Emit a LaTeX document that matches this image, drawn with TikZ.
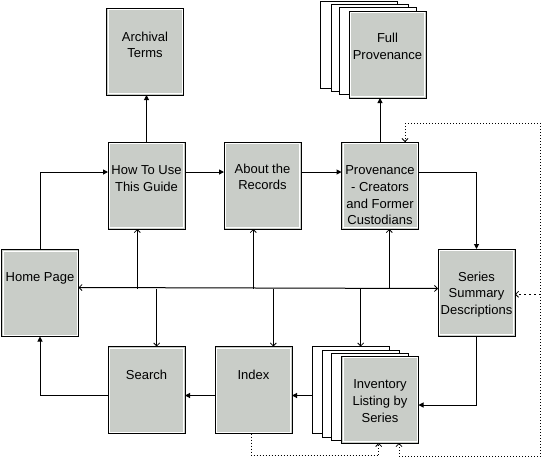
\documentclass[tikz,border=0pt]{standalone}
\usepackage{fontspec}
\setmainfont{Liberation Sans}
\usetikzlibrary{arrows.meta,calc}
\definecolor{boxgray}{HTML}{C9CDC8}
\begin{document}
\begin{tikzpicture}[x=1pt,y=-1pt,
  pg/.style={draw=black,line width=1pt,minimum width=77pt,minimum height=87pt,inner sep=0pt,outer sep=0pt},
  box/.style={pg,fill=boxgray},
  page/.style={pg,fill=white},
  lbl/.style={anchor=north,align=center,inner sep=0pt,font=\fontsize{13}{16.7}\selectfont},
  link/.style={line width=1pt,-{Triangle[length=5pt,width=5pt]}},
  nav/.style={line width=1pt,-{Straight Barb[length=3pt,width=6pt,line width=0.8pt]}},
  dotl/.style={line width=1pt,dash pattern=on 1pt off 2pt},
  dashl/.style={line width=1pt,dash pattern=on 2pt off 3pt}
]
\fill[white] (0,0) rectangle (541,459);
\path[use as bounding box] (0,0) rectangle (541,459);

% stacked pages behind
\node[page] (fullp1) at (359,44.5) {};
\node[page] (fullp2) at (369.5,48) {};
\node[page] (fullp3) at (378,50.5) {};
\node[page] (invp1) at (351,390) {};
\node[page] (invp2) at (360.5,394) {};
\node[page] (invp3) at (370,396.5) {};

% boxes
\node[box] (arch) at (145,51.5) {};
\node[box] (how) at (146.5,185.5) {};
\node[box] (about) at (262.5,185.5) {};
\node[box] (prov) at (380,185.5) {};
\node[box] (full) at (387.5,54.5) {};
\node[box] (series) at (476.5,292.5) {};
\node[box] (home) at (40,293) {};
\node[box] (search) at (146.5,390) {};
\node[box] (index) at (253.5,390) {};
\node[box] (inv) at (380,399.5) {};

\foreach \n in {arch,how,about,prov,full,series,home,search,index,inv}
  \draw[white,line width=1pt] ([shift={(1.5pt,-1.5pt)}]\n.north west) rectangle ([shift={(-1.5pt,1.5pt)}]\n.south east);

% labels
\node[lbl] (archT) at ([yshift=-23.5pt]arch.north) {Archival\\Terms};
\node[lbl] (howT) at ([yshift=-23.5pt]how.north) {How To Use\\This Guide};
\node[lbl] (aboutT) at ([yshift=-21.5pt]about.north) {About the\\Records};
\node[lbl] (provT) at ([yshift=-23.5pt]prov.north) {Provenance\\- Creators\\and Former\\Custodians};
\node[lbl] (fullT) at ([yshift=-22pt]full.north) {Full\\Provenance};
\node[lbl] (seriesT) at ([yshift=-22.5pt]series.north) {Series\\Summary\\Descriptions};
\node[lbl] (homeT) at ([yshift=-23pt]home.north) {Home Page};
\node[lbl] (searchT) at ([yshift=-23.5pt]search.north) {Search};
\node[lbl] (indexT) at ([yshift=-23.5pt]index.north) {Index};
\node[lbl] (invT) at ([yshift=-23.5pt]inv.north) {Inventory\\Listing by\\Series};

% main links
\draw[link] (how.north) -- (how.north |- arch.south);
\draw[link] (home.north) |- ([yshift=-30pt]how.north west);
\draw[link] ([yshift=-30pt]how.north east) -- ([yshift=-30pt]about.north west);
\draw[link] ([yshift=-30pt]about.north east) -- ([yshift=-30pt]prov.north west);
\draw[link] (prov.north) -- (prov.north |- full.south);
\draw[link] ([yshift=-30pt]prov.north east) -| (series.north);
\draw[link] (series.south) |- ([yshift=-49pt]inv.north east);
\draw[link] ([yshift=-49pt]invp1.north west) -- ([yshift=-49pt]index.north east);
\draw[link] ([yshift=-49pt]index.north west) -- ([yshift=-49pt]search.north east);
\draw[link] ([yshift=-49pt]search.north west) -| (home.south);

% navigation hub
\coordinate (hubL) at ([yshift=-38pt]home.north east);
\coordinate (hubR) at ([yshift=-39.5pt]series.north west);
\draw[nav,{Straight Barb[length=3pt,width=6pt,line width=0.8pt]}-{Straight Barb[length=3pt,width=6pt,line width=0.8pt]}] (hubL) -- (hubR);
\coordinate (j1) at (137.3,288.5);
\coordinate (j2) at (253.3,288.5);
\coordinate (j3) at (389.3,288.5);
\coordinate (j4) at (156.7,288.5);
\coordinate (j5) at (273.3,288.5);
\coordinate (j6) at (360.7,288.5);
\draw[nav] (j1) -- (j1 |- how.south);
\draw[nav] (j2) -- (j2 |- about.south);
\draw[nav] (j3) -- (j3 |- prov.south);
\draw[nav] (j4) -- (j4 |- search.north);
\draw[nav] (j5) -- (j5 |- index.north);
\draw[nav] (j6) -- (j6 |- invp1.north);

% dotted loop
\coordinate (dTop) at (540.5,123.3);
\coordinate (dBot) at (540.5,456.5);
\draw[dotl] (dBot) -- (dTop);
\draw[dotl,-{Straight Barb[length=3pt,width=6pt,line width=0.8pt]}] (dTop) -| ([xshift=25pt]prov.north);
\draw[dotl,-{Straight Barb[length=3pt,width=6pt,line width=0.8pt]}] (dBot) -| ([xshift=19pt]inv.south);
\draw[dashl,-{Straight Barb[length=3pt,width=6pt,line width=0.8pt]}] ([yshift=-1.8pt]series.east -| dTop) -- ([yshift=-1.8pt]series.east);
\draw[dotl,-{Straight Barb[length=3pt,width=6pt,line width=0.8pt]}] ([xshift=-1.8pt]index.south) -- ++(0,22) -| ([xshift=-1.3pt]inv.south);
\end{tikzpicture}
\end{document}
